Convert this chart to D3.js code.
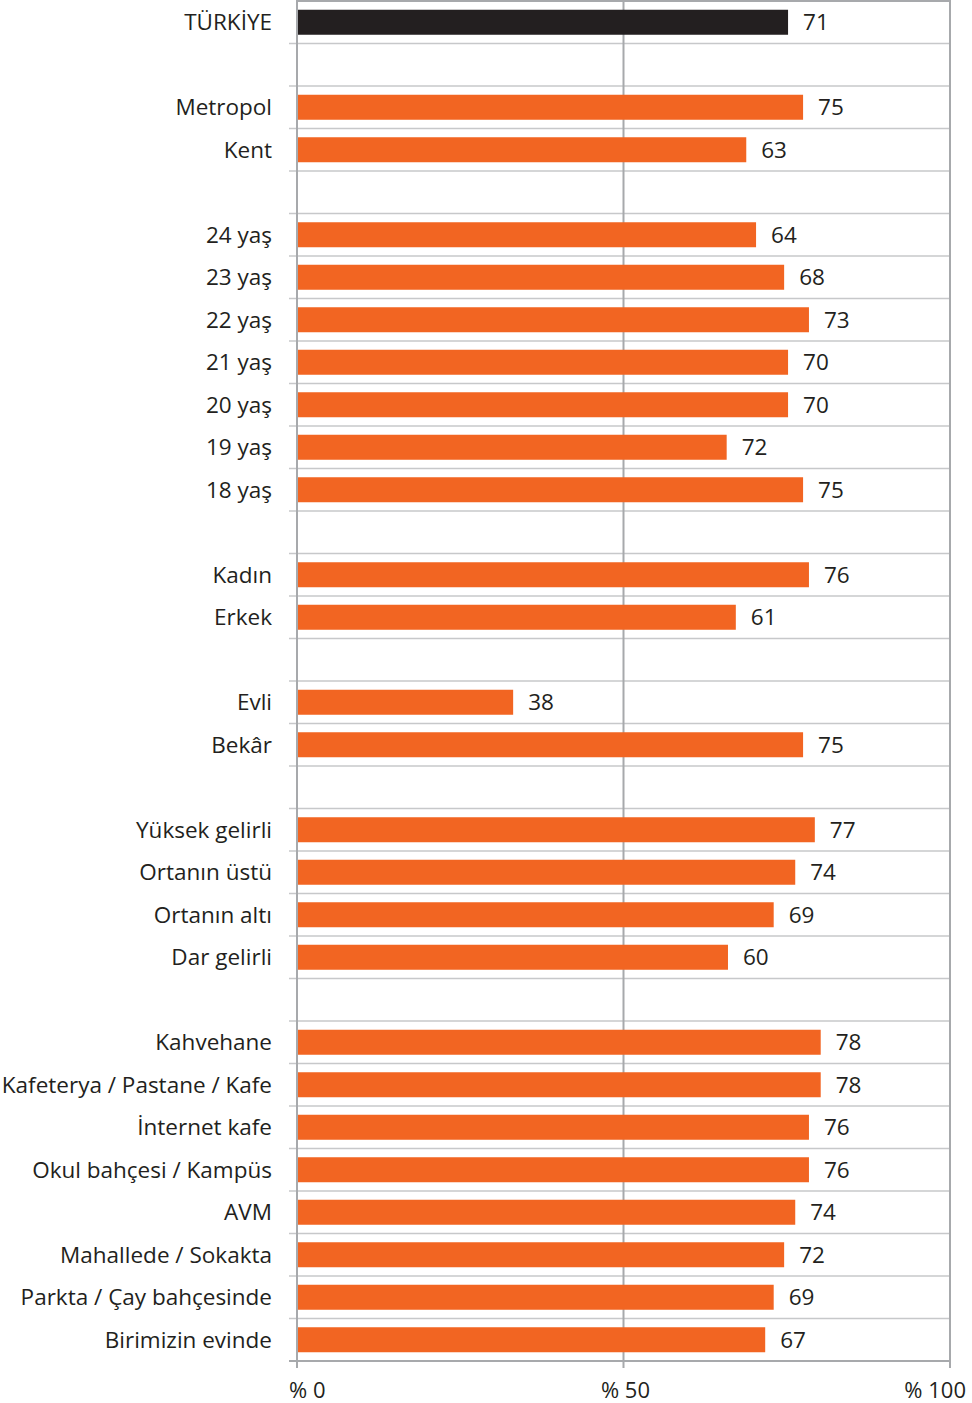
<!DOCTYPE html>
<html><head><meta charset="utf-8">
<script src="https://cdn.jsdelivr.net/npm/d3@7"></script>
<style>body{margin:0;background:#fff}svg{display:block}text{font-family:"Open Sans",sans-serif;fill:#231f20}</style>
</head><body>
<script>
// categories (null = blank spacer row)
const categories = ["TÜRKİYE", null, "Metropol", "Kent", null,
  "24 yaş", "23 yaş", "22 yaş", "21 yaş", "20 yaş", "19 yaş", "18 yaş", null,
  "Kadın", "Erkek", null, "Evli", "Bekâr", null,
  "Yüksek gelirli", "Ortanın üstü", "Ortanın altı", "Dar gelirli", null,
  "Kahvehane", "Kafeterya / Pastane / Kafe", "İnternet kafe", "Okul bahçesi / Kampüs",
  "AVM", "Mahallede / Sokakta", "Parkta / Çay bahçesinde", "Birimizin evinde"];
// printed values (labels)
const values = [71, null, 75, 63, null,
  64, 68, 73, 70, 70, 72, 75, null,
  76, 61, null, 38, 75, null,
  77, 74, 69, 60, null,
  78, 78, 76, 76, 74, 72, 69, 67];
// bar lengths as drawn in the picture (%)
const barValues = [75.2, null, 77.5, 68.8, null,
  70.3, 74.6, 78.4, 75.2, 75.2, 65.8, 77.5, null,
  78.4, 67.2, null, 33.1, 77.5, null,
  79.3, 76.3, 73.0, 66.0, null,
  80.2, 80.2, 78.4, 78.4, 76.3, 74.6, 73.0, 71.7];
const ticks = [0, 50, 100];
const tickLabels = ["% 0", "% 50", "% 100"];

const W = 972, H = 1403;
const svg = d3.select("body").append("svg").attr("width", W).attr("height", H);
const x = d3.scaleLinear().domain([0, 100]).range([297, 950]);
const y = d3.scaleBand().domain(d3.range(categories.length)).range([1, 1361]).paddingInner(0).paddingOuter(0);
const bh = 25;
const gridC = "#c7c8ca", axC = "#a7a9ac";

// horizontal row lines
const bounds = d3.range(categories.length + 1).map(i => i < categories.length ? y(i) : y(i - 1) + y.bandwidth());
svg.append("g").selectAll("line").data(bounds.slice(1, -1)).join("line")
  .attr("x1", 289).attr("x2", x(100)).attr("y1", d => d).attr("y2", d => d)
  .attr("stroke", gridC).attr("stroke-width", 1.6);
// top line
svg.append("line").attr("x1", x(0)).attr("x2", x(100)).attr("y1", 1).attr("y2", 1)
  .attr("stroke", axC).attr("stroke-width", 2);

// vertical gridlines (behind bars)
svg.append("g").selectAll("line").data(ticks.slice(1)).join("line")
  .attr("x1", d => x(d)).attr("x2", d => x(d)).attr("y1", 0).attr("y2", 1368)
  .attr("stroke", axC).attr("stroke-width", 2);

// bars
const rows = categories.map((c, i) => ({c, i, v: values[i], b: barValues[i]})).filter(d => d.c !== null);
svg.append("g").selectAll("rect").data(rows).join("rect")
  .attr("x", x(0)).attr("y", d => y(d.i) + (y.bandwidth() - bh) / 2)
  .attr("width", d => x(d.b) - x(0)).attr("height", bh)
  .attr("fill", d => d.i === 0 ? "#231f20" : "#f26522");

// zero axis line
svg.append("line").attr("x1", x(0)).attr("x2", x(0)).attr("y1", 0).attr("y2", 1368)
  .attr("stroke", axC).attr("stroke-width", 2);
// bottom axis line
const by = y(categories.length - 1) + y.bandwidth();
svg.append("line").attr("x1", 289).attr("x2", x(100)).attr("y1", by).attr("y2", by)
  .attr("stroke", axC).attr("stroke-width", 2);

// tick labels
svg.append("g").selectAll("text").data(ticks).join("text")
  .attr("x", (d, i) => x(d) + (i === 0 ? -8 : i === ticks.length - 1 ? 16 : 2))
  .attr("y", 1398)
  .attr("text-anchor", (d, i) => i === 0 ? "start" : i === ticks.length - 1 ? "end" : "middle")
  .attr("font-size", 22).text((d, i) => tickLabels[i]);

// category labels
svg.append("g").selectAll("text").data(rows).join("text")
  .attr("x", 272).attr("y", d => y(d.i) + y.bandwidth() / 2)
  .attr("dy", "0.36em").attr("text-anchor", "end").attr("font-size", 22.5)
  .text(d => d.c);

// value labels
svg.append("g").selectAll("text").data(rows).join("text")
  .attr("x", d => x(d.b) + 15).attr("y", d => y(d.i) + y.bandwidth() / 2)
  .attr("dy", "0.36em").attr("font-size", 22.5)
  .text(d => d.v);
</script>
</body></html>
